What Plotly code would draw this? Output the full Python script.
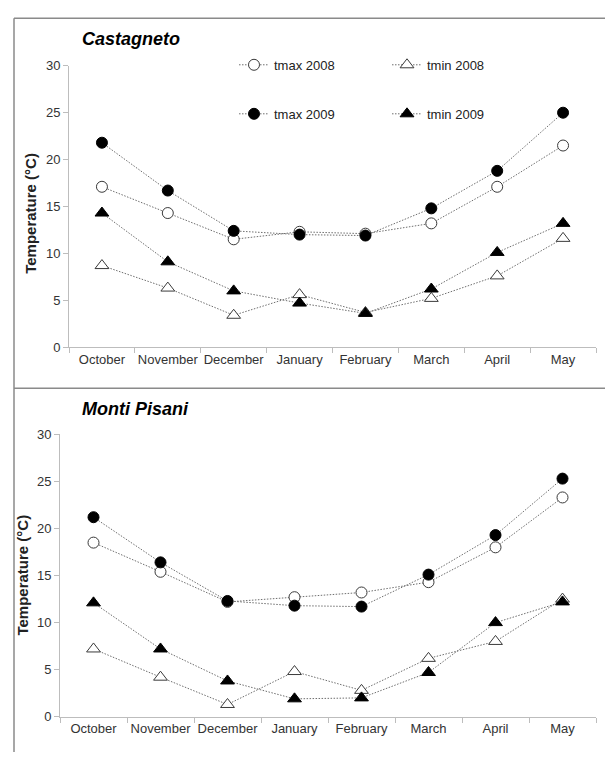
import plotly.graph_objects as go

months = ["October", "November", "December", "January", "February", "March", "April", "May"]
y_ticks = [0, 5, 10, 15, 20, 25, 30]

# Castagneto
cas_tmax_2008 = [17.1, 14.3, 11.5, 12.3, 12.1, 13.2, 17.1, 21.5]
cas_tmin_2008 = [8.7, 6.3, 3.4, 5.6, 3.7, 5.2, 7.6, 11.6]
cas_tmax_2009 = [21.8, 16.7, 12.4, 12.0, 11.9, 14.8, 18.8, 25.0]
cas_tmin_2009 = [14.3, 9.1, 6.0, 4.7, 3.6, 6.2, 10.1, 13.2]

# Monti Pisani
mp_tmax_2008 = [18.5, 15.4, 12.2, 12.7, 13.2, 14.3, 18.0, 23.3]
mp_tmin_2008 = [7.2, 4.2, 1.3, 4.8, 2.8, 6.2, 8.0, 12.5]
mp_tmax_2009 = [21.2, 16.4, 12.3, 11.8, 11.7, 15.1, 19.3, 25.3]
mp_tmin_2009 = [12.1, 7.2, 3.8, 1.9, 2.0, 4.7, 10.0, 12.2]

W, H = 605, 760
FONT = "Liberation Sans, Arial, sans-serif"
LINE = dict(color="#6e6e6e", width=1, dash="1.5px,1.5px")

def px_x(p):
    return p / W

def px_y(p):
    return 1 - p / H

styles = {
    "tmax 2008": dict(symbol="circle", size=11, color="white", line=dict(color="#3a3a3a", width=1)),
    "tmin 2008": dict(symbol="triangle-up", size=12, color="white", line=dict(color="#3a3a3a", width=1)),
    "tmax 2009": dict(symbol="circle", size=11, color="black", line=dict(color="black", width=1)),
    "tmin 2009": dict(symbol="triangle-up", size=12, color="black", line=dict(color="black", width=1)),
}

fig = go.Figure()

panels = [
    ("x", "y", {"tmax 2008": cas_tmax_2008, "tmin 2008": cas_tmin_2008,
                "tmax 2009": cas_tmax_2009, "tmin 2009": cas_tmin_2009}, True),
    ("x2", "y2", {"tmax 2008": mp_tmax_2008, "tmin 2008": mp_tmin_2008,
                  "tmax 2009": mp_tmax_2009, "tmin 2009": mp_tmin_2009}, False),
]

for xa, ya, series, show in panels:
    for name in ["tmax 2008", "tmin 2008", "tmax 2009", "tmin 2009"]:
        fig.add_trace(go.Scatter(
            x=months, y=series[name], name=name, xaxis=xa, yaxis=ya,
            mode="lines+markers", line=LINE, marker=styles[name],
            showlegend=show,
            legend="legend" if name.endswith("2008") else "legend2",
        ))

axis_common = dict(showgrid=False, zeroline=False, showline=True, linecolor="#bdbdbd",
                   linewidth=1, ticks="outside", tickcolor="#bdbdbd", ticklen=5,
                   tickfont=dict(family=FONT, size=13, color="#333333"))

fig.update_layout(
    width=W, height=H, margin=dict(l=0, r=0, t=0, b=0),
    paper_bgcolor="white", plot_bgcolor="white",
    font=dict(family=FONT, size=13, color="#222222"),
    xaxis=dict(domain=[px_x(69), px_x(596)], anchor="y", type="category", tickangle=0,
               range=[-0.5, 7.5], tickson="boundaries", **axis_common),
    yaxis=dict(domain=[px_y(347), px_y(60)], anchor="x", range=[0, 30],
               tickvals=y_ticks, **axis_common),
    xaxis2=dict(domain=[px_x(60), px_x(596)], anchor="y2", type="category", tickangle=0,
                range=[-0.5, 7.5], tickson="boundaries", **axis_common),
    yaxis2=dict(domain=[px_y(724), px_y(436)], anchor="x2", range=[0, 30],
                tickvals=y_ticks, **axis_common),
    legend=dict(orientation="h", x=px_x(234), y=px_y(59), xanchor="left", yanchor="middle",
                entrywidth=108, bgcolor="rgba(0,0,0,0)",
                font=dict(family=FONT, size=13, color="#222222")),
    legend2=dict(orientation="h", x=px_x(234), y=px_y(109), xanchor="left", yanchor="middle",
                 entrywidth=108, bgcolor="rgba(0,0,0,0)",
                 font=dict(family=FONT, size=13, color="#222222")),
)

# Panel titles and y-axis titles
for text, xp, yp in [("Castagneto", 80, 33), ("Monti Pisani", 80, 410)]:
    fig.add_annotation(text="<b><i>%s</i></b>" % text, x=px_x(xp), y=px_y(yp),
                       xref="paper", yref="paper", xanchor="left", yanchor="middle",
                       showarrow=False, font=dict(family=FONT, size=18, color="black"))
for xp, yp in [(31, 211), (23, 580)]:
    fig.add_annotation(text="<b>Temperature (°C)</b>", x=px_x(xp), y=px_y(yp),
                       xref="paper", yref="paper", xanchor="center", yanchor="middle",
                       textangle=-90, showarrow=False,
                       font=dict(family=FONT, size=15, color="#222222"))

# Frame lines
frame = dict(color="#8a8a8a", width=1.5)
fig.add_shape(type="line", xref="paper", yref="paper", x0=px_x(14), x1=1, y0=px_y(11.5), y1=px_y(11.5), line=frame)
fig.add_shape(type="line", xref="paper", yref="paper", x0=px_x(14), x1=1, y0=px_y(389), y1=px_y(389), line=frame)
fig.add_shape(type="line", xref="paper", yref="paper", x0=px_x(14), x1=px_x(14), y0=px_y(11.5), y1=0, line=frame)

fig.write_html(
    "out.html",
    config={"displayModeBar": False},
    post_script=(
        "document.documentElement.style.margin='0';"
        "document.body.style.margin='0';"
        "document.body.style.overflow='hidden';"
        "var d=document.querySelector('.plotly-graph-div');"
        "if(d){d.style.position='fixed';d.style.top='0';d.style.left='0';}"
    ),
)
